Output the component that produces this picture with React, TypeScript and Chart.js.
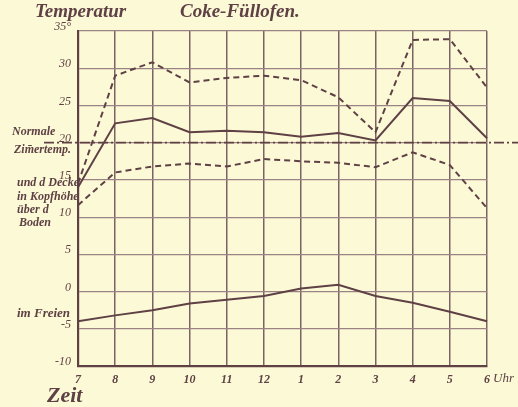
import React, { useEffect, useRef } from "react";
import { Chart, registerables } from "chart.js";

Chart.register(...registerables);

const hours = ["7", "8", "9", "10", "11", "12", "1", "2", "3", "4", "5", "6"];
const deckeTemp = [14.5, 29.0, 30.8, 28.1, 28.7, 29.0, 28.4, 26.1, 21.4, 33.8, 33.9, 27.4];
const kopfTemp = [14.0, 22.6, 23.3, 21.4, 21.6, 21.4, 20.8, 21.3, 20.3, 26.0, 25.6, 20.6];
const bodenTemp = [11.6, 16.0, 16.8, 17.2, 16.8, 17.8, 17.5, 17.3, 16.7, 18.7, 17.0, 11.2];
const freienTemp = [-4.0, -3.2, -2.5, -1.6, -1.1, -0.6, 0.4, 0.9, -0.6, -1.5, -2.7, -4.0];
const normalTemp = 20;
const yMin = -10;
const yMax = 35;
const yStep = 5;

const INK = "#5e4045";
const BG = "#fcfad6";
const FONT = "'Liberation Serif', 'DejaVu Serif', serif";

const annotations = {
  id: "annotations",
  beforeDraw(chart: any) {
    const { ctx } = chart;
    ctx.save();
    ctx.fillStyle = BG;
    ctx.fillRect(0, 0, chart.width, chart.height);
    ctx.restore();
  },
  afterDatasetsDraw(chart: any) {
    const { ctx, scales } = chart;
    const y = scales.y;
    const x = scales.x;
    const yN = y.getPixelForValue(normalTemp);
    ctx.save();
    // normal room temperature line
    ctx.strokeStyle = INK;
    ctx.lineWidth = 1.8;
    ctx.setLineDash([10, 3, 2, 3]);
    ctx.beginPath();
    ctx.moveTo(44, yN);
    ctx.lineTo(chart.width, yN);
    ctx.stroke();
    ctx.setLineDash([]);

    ctx.fillStyle = INK;
    ctx.textBaseline = "alphabetic";
    ctx.textAlign = "left";
    // titles
    ctx.font = `italic bold 19px ${FONT}`;
    ctx.fillText("Temperatur", 35, 17);
    ctx.fillText("Coke-Füllofen.", 180, 17);
    // Zeit
    ctx.font = `italic bold 22px ${FONT}`;
    ctx.fillText("Zeit", 47, 402);
    // Uhr
    ctx.font = `italic 13px ${FONT}`;
    ctx.fillText("Uhr", x.getPixelForValue(11) + 6, 382);
    // side notes
    ctx.font = `italic bold 12px ${FONT}`;
    ctx.fillText("Normale", 12, yN - 8);
    ctx.fillText("Zim\u0304ertemp.", 14, yN + 10);
    const y15 = y.getPixelForValue(15);
    ctx.fillText("und d Decke", 17, y15 + 6);
    ctx.fillText("in Kopfhöhe", 17, y15 + 20);
    ctx.fillText("über d", 17, y15 + 33);
    ctx.fillText("Boden", 19, y15 + 46);
    const y0 = y.getPixelForValue(0);
    ctx.font = `italic bold 13px ${FONT}`;
    ctx.fillText("im Freien", 17, y0 + 25);
    ctx.restore();
  },
};

export default function App() {
  const ref = useRef<HTMLCanvasElement | null>(null);
  useEffect(() => {
    document.body.style.margin = "0";
    document.body.style.background = BG;
    const lineDs = (label: string, data: number[], dashed: boolean) => ({
      label,
      data,
      borderColor: INK,
      borderWidth: 2,
      borderDash: dashed ? [6, 4] : [],
      pointRadius: 0,
      tension: 0,
      fill: false,
    });
    const chart = new Chart(ref.current as HTMLCanvasElement, {
      type: "line",
      data: {
        labels: hours,
        datasets: [
          lineDs("an der Decke", deckeTemp, true),
          lineDs("in Kopfhöhe", kopfTemp, false),
          lineDs("über dem Boden", bodenTemp, true),
          lineDs("im Freien", freienTemp, false),
        ],
      },
      options: {
        responsive: false,
        animation: false,
        layout: { padding: { left: 8, top: 31, right: 31, bottom: 0 } },
        plugins: { legend: { display: false }, tooltip: { enabled: false }, title: { display: false } },
        scales: {
          x: {
            type: "category",
            offset: false,
            afterFit: (s: any) => {
              s.height = 41;
            },
            grid: { color: "#7d6265", lineWidth: 1.5, drawTicks: false },
            border: { color: INK, width: 2.2 },
            ticks: {
              color: INK,
              padding: 7,
              maxRotation: 0,
              autoSkip: false,
              font: { family: FONT, style: "italic", weight: "bold", size: 12 },
            },
          },
          y: {
            min: yMin,
            max: yMax,
            afterFit: (s: any) => {
              s.width = 70;
            },
            grid: { color: "#9a8285", lineWidth: 1.2, drawTicks: false },
            border: { color: INK, width: 2.2 },
            ticks: {
              stepSize: yStep,
              color: INK,
              padding: 7,
              labelOffset: -4,
              callback: (v: any) => (v === yMax ? `${v}°` : `${v}`),
              font: { family: FONT, style: "italic", size: 12 },
            },
          },
        },
      },
      plugins: [annotations],
    });
    return () => chart.destroy();
  }, []);
  return (
    <div style={{ position: "fixed", left: 0, top: 0, width: 518, height: 407, background: BG }}>
      <canvas ref={ref} width={518} height={407} style={{ display: "block" }} />
    </div>
  );
}
